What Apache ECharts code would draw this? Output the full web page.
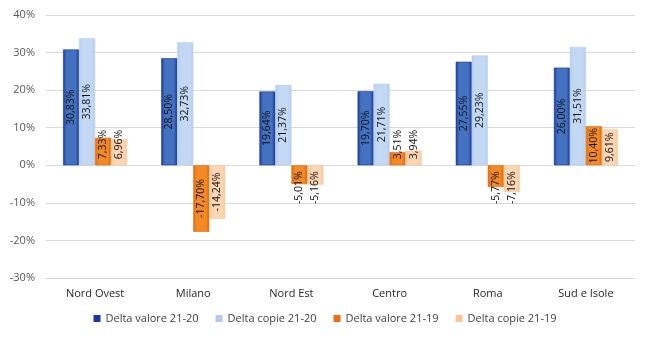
<!DOCTYPE html>
<html>
<head>
<meta charset="utf-8">
<script src="https://cdn.jsdelivr.net/npm/echarts@6/dist/echarts.min.js"></script>
<style>
  html, body { margin: 0; padding: 0; background: #ffffff; }
  #chart { width: 650px; height: 342px; }
</style>
</head>
<body>
<div id="chart"></div>
<script>
// Regional year-on-year deltas (percent)
const categories = ['Nord Ovest', 'Milano', 'Nord Est', 'Centro', 'Roma', 'Sud e Isole'];
const seriesNames = ['Delta valore 21-20', 'Delta copie 21-20', 'Delta valore 21-19', 'Delta copie 21-19'];
const valore2120 = [30.83, 28.50, 19.64, 19.70, 27.55, 26.00];
const copie2120  = [33.81, 32.73, 21.37, 21.71, 29.23, 31.51];
const valore2119 = [7.33, -17.70, -5.01, 3.51, -5.77, 10.40];
const copie2119  = [6.96, -14.24, -5.16, 3.94, -7.16, 9.61];
const yTicks = [-30, -20, -10, 0, 10, 20, 30, 40];

const FONT = '"Open Sans", "Noto Sans", sans-serif';

function edgeGradient(edge, mid) {
  return new echarts.graphic.LinearGradient(0, 0, 1, 0, [
    { offset: 0, color: edge },
    { offset: 0.22, color: mid },
    { offset: 0.78, color: mid },
    { offset: 1, color: edge }
  ]);
}

const styles = [
  { fill: edgeGradient('#1a389c', '#4472c0'), border: '#18359a', legend: '#1f35a3' },
  { fill: edgeGradient('#b5cdee', '#c3d8f3'), border: '#b5cdee', legend: '#b4cbed' },
  { fill: edgeGradient('#e2680a', '#f48a26'), border: '#e2680a', legend: '#f06a0e' },
  { fill: edgeGradient('#f8c9a0', '#fcd5b2'), border: '#f8c9a0', legend: '#fbc596' }
];

function fmt(v) {
  return v.toFixed(2).replace('.', ',') + '%';
}

// Long bars carry a centred label; short bars anchor the label at the base
function toItems(values) {
  return values.map(function (v) {
    if (Math.abs(v) >= 9) {
      return { value: v, label: { position: 'inside', align: 'center', verticalAlign: 'middle' } };
    }
    if (v >= 0) {
      return { value: v, label: { position: 'insideBottom', distance: 6, align: 'left', verticalAlign: 'middle' } };
    }
    return { value: v, label: { position: 'insideTop', distance: 6, align: 'right', verticalAlign: 'middle' } };
  });
}

const dataSets = [valore2120, copie2120, valore2119, copie2119];

const series = dataSets.map(function (vals, i) {
  return {
    name: seriesNames[i],
    type: 'bar',
    barWidth: 16,
    barGap: '0%',
    data: toItems(vals),
    itemStyle: {
      color: styles[i].fill,
      borderColor: styles[i].border,
      borderWidth: 0.6
    },
    label: {
      show: true,
      rotate: 90,
      fontFamily: FONT,
      fontSize: 10.5,
      color: '#111111',
      formatter: function (p) { return fmt(p.value); }
    },
    emphasis: { disabled: true }
  };
});

const chart = echarts.init(document.getElementById('chart'), null, { renderer: 'canvas' });
chart.setOption({
  animation: false,
  backgroundColor: '#ffffff',
  color: styles.map(function (s) { return s.legend; }),
  grid: { left: 46, right: 15, top: 15, bottom: 64 },
  legend: {
    data: seriesNames.map(function (n, i) {
      return { name: n, itemStyle: { color: styles[i].legend, borderWidth: 0 } };
    }),
    bottom: 13,
    left: 'center',
    icon: 'rect',
    itemWidth: 7,
    itemHeight: 7,
    itemGap: 17,
    textStyle: { fontFamily: FONT, fontSize: 11, color: '#404040' }
  },
  xAxis: {
    type: 'category',
    data: categories,
    axisLine: { show: true, lineStyle: { color: '#d9d9d9', width: 1 } },
    axisTick: { show: false },
    axisLabel: { margin: 10, fontFamily: FONT, fontSize: 11, color: '#262626' }
  },
  yAxis: {
    type: 'value',
    min: yTicks[0],
    max: yTicks[yTicks.length - 1],
    interval: 10,
    axisLine: { show: false },
    axisTick: { show: false },
    splitLine: { lineStyle: { color: '#d9d9d9', width: 1 } },
    axisLabel: {
      margin: 11,
      fontFamily: FONT,
      fontSize: 11,
      color: '#595959',
      formatter: function (v) { return v + '%'; }
    }
  },
  series: series
});
</script>
</body>
</html>
